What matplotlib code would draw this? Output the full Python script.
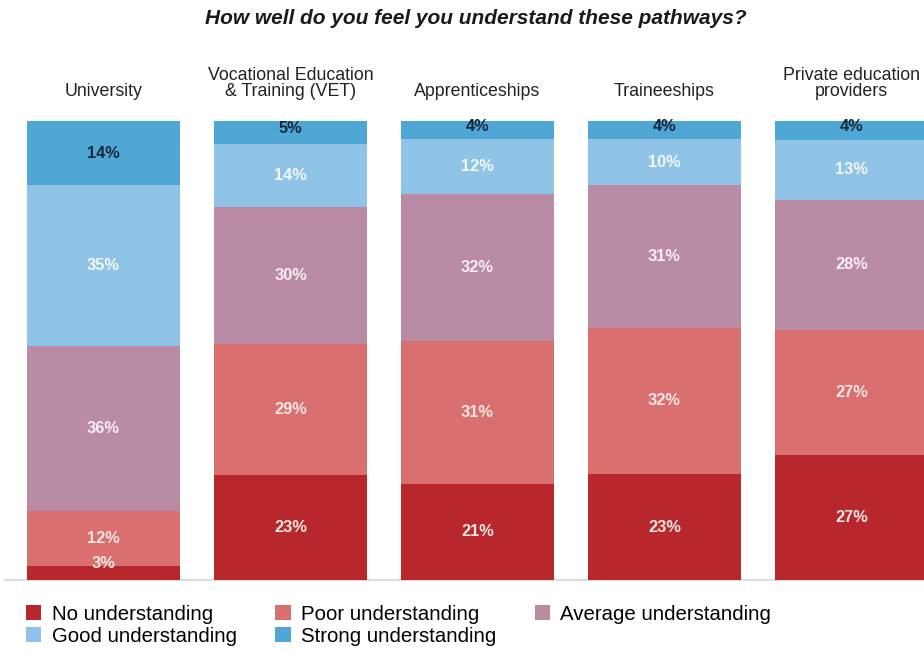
import matplotlib
matplotlib.use("Agg")
import matplotlib.pyplot as plt
from matplotlib.patches import Patch
import numpy as np

# Survey results: share of respondents at each level of understanding
pathways = ["University", "Vocational Education\n& Training (VET)", "Apprenticeships",
            "Traineeships", "Private education\nproviders"]
levels = ["No understanding", "Poor understanding", "Average understanding",
          "Good understanding", "Strong understanding"]
no_understanding = [3, 23, 21, 23, 27]
poor_understanding = [12, 29, 31, 32, 27]
average_understanding = [36, 30, 32, 31, 28]
good_understanding = [35, 14, 12, 10, 13]
strong_understanding = [14, 5, 4, 4, 4]

colors = ["#b8272b", "#d96f6e", "#b98ba4", "#8fc4e6", "#4ea7d5"]
label_colors = ["#fde8e4", "#fde8e4", "#fbeef4", "#f2f8fd", "#16263d"]

series = np.array([no_understanding, poor_understanding, average_understanding,
                   good_understanding, strong_understanding], dtype=float)
shares = series / series.sum(axis=0) * 100  # each bar fills 100%

font = "Liberation Sans"

fig = plt.figure(figsize=(9.24, 6.51), dpi=100)
ax = fig.add_axes([0, 1 - 580 / 651, 1, (580 - 121) / 651])
x = np.arange(len(pathways))
width = 153 / 187
bottom = np.zeros(len(pathways))
for k in range(len(levels)):
    ax.bar(x, shares[k], width, bottom=bottom, color=colors[k], linewidth=0, zorder=2)
    for i in range(len(pathways)):
        h = shares[k][i]
        yc = bottom[i] + h / 2
        if k == 4 and h < 8:
            yc = bottom[i] + h / 2 + 0.9
        if k == 0 and h < 5:
            yc = bottom[i] + 3.5
        ax.text(x[i], yc, f"{series[k][i]:.0f}%", ha="center", va="center",
                fontsize=11.8, fontweight="bold", family=font,
                color=label_colors[k], zorder=3)
    bottom += shares[k]

ax.set_xlim(-103.5 / 187, (924 - 103.5) / 187)
ax.set_ylim(0, 100)
ax.axhline(0, xmin=5 / 924, xmax=1, color="#dcdcdc", lw=1.6, zorder=1, clip_on=False)
ax.axis("off")

for i, name in enumerate(pathways):
    ax.text(x[i], 104.5, name, ha="center", va="bottom", fontsize=12.8,
            family=font, color="#222222", linespacing=0.92)

fig.text(476 / 924, 1 - 18 / 651, "How well do you feel you understand these pathways?",
         ha="center", va="center", fontsize=15, fontweight="bold", style="italic",
         family=font, color="#1a1a1a")

# legend filled row by row: No / Poor / Average, then Good / Strong
order = [0, 3, 1, 4, 2]
handles = [Patch(facecolor=colors[j], edgecolor="none") for j in order]
labels = [levels[j] for j in order]
fig.legend(handles, labels, loc="upper left", bbox_to_anchor=(26 / 924, 1 - 605 / 651),
           ncol=3, frameon=False, handlelength=0.75, handleheight=0.75,
           handletextpad=0.5, columnspacing=1.9, labelspacing=0.15,
           borderpad=0, borderaxespad=0,
           prop={"family": font, "size": 14.7})

fig.savefig("out.png", dpi=100, facecolor="white")
